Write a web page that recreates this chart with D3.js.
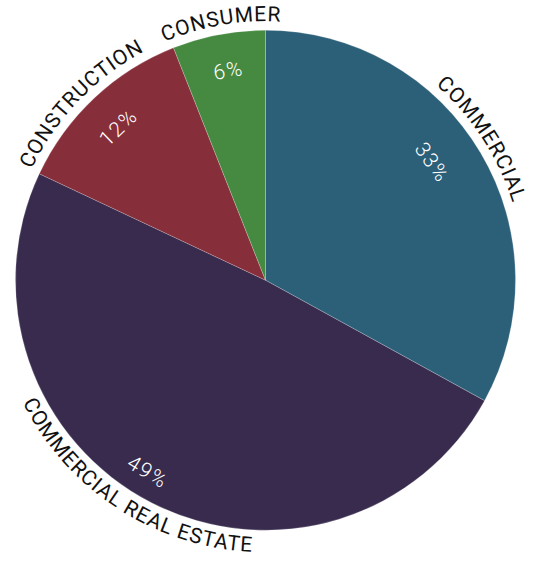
<!DOCTYPE html>
<html>
<head>
<meta charset="utf-8">
<script src="https://cdn.jsdelivr.net/npm/d3@7/dist/d3.min.js"></script>
<style>
  html, body { margin: 0; padding: 0; background: #ffffff; }
  svg { display: block; }
</style>
</head>
<body>
<svg id="chart" width="533" height="564"></svg>
<script>
// Loan portfolio mix by segment
const categories = ["COMMERCIAL", "COMMERCIAL REAL ESTATE", "CONSTRUCTION", "CONSUMER"];
const shares = [33, 49, 12, 6];
const shareLabels = ["33%", "49%", "12%", "6%"];
const sliceColors = ["#2c6079", "#382b4e", "#872e3b", "#468a41"];

// Layout
const width = 533, height = 564;
const cx = 265.5, cy = 280.2, radius = 250;
const nameRadius = 259;          // baseline of names on the upper side
const nameRadiusFlipped = 272;   // baseline of names that read along the lower side
const nameNudge = [-2.5, 6, -3, 1];          // degrees, along the circle
const pctRadius = [204, 225, 212, 213];
const pctNudge = [-4.7, 4.6, -0.7, 0.8];

const svg = d3.select("#chart");
const g = svg.append("g").attr("transform", `translate(${cx},${cy})`);

const pie = d3.pie().sort(null).value(d => d);
const arcs = pie(shares);
const arc = d3.arc().innerRadius(0).outerRadius(radius);

g.selectAll("path.slice")
  .data(arcs)
  .join("path")
  .attr("class", "slice")
  .attr("d", arc)
  .attr("fill", (d, i) => sliceColors[i])
  .attr("stroke", "rgba(255,255,255,0.35)")
  .attr("stroke-width", 0.6);

const deg = Math.PI / 180;
const pt = (a, r) => [r * Math.sin(a), -r * Math.cos(a)];
const midAngle = d => (d.startAngle + d.endAngle) / 2;
const isLower = a => {
  const n = ((a % (2 * Math.PI)) + 2 * Math.PI) % (2 * Math.PI);
  return n > Math.PI / 2 && n < 3 * Math.PI / 2;
};

// Curved category names
const defs = svg.append("defs");
arcs.forEach((d, i) => {
  const m = midAngle(d) + nameNudge[i] * deg;
  const lower = isLower(m);
  const r = lower ? nameRadiusFlipped : nameRadius;
  const span = 80 * deg;
  let p0, p1, sweep;
  if (lower) {
    p0 = pt(m + span, r); p1 = pt(m - span, r); sweep = 0;
  } else {
    p0 = pt(m - span, r); p1 = pt(m + span, r); sweep = 1;
  }
  defs.append("path")
    .attr("id", "name-path-" + i)
    .attr("d", `M${p0[0]},${p0[1]} A${r},${r} 0 0 ${sweep} ${p1[0]},${p1[1]}`);
  g.append("text")
    .attr("font-family", "Roboto, sans-serif")
    .attr("font-size", 21)
    .attr("letter-spacing", 0.9)
    .attr("fill", "#111111")
    .append("textPath")
    .attr("href", "#name-path-" + i)
    .attr("startOffset", "50%")
    .attr("text-anchor", "middle")
    .text(categories[i]);
});

// Share labels inside each slice
arcs.forEach((d, i) => {
  const m = midAngle(d) + pctNudge[i] * deg;
  const [x, y] = pt(m, pctRadius[i]);
  const rot = (isLower(m) ? m / deg - 180 : m / deg);
  g.append("text")
    .attr("transform", `translate(${x},${y}) rotate(${rot})`)
    .attr("text-anchor", "middle")
    .attr("dominant-baseline", "central")
    .attr("font-family", "Roboto, sans-serif")
    .attr("font-weight", 300)
    .attr("font-size", 21)
    .attr("letter-spacing", 1.5)
    .attr("fill", "#ffffff")
    .text(shareLabels[i]);
});
</script>
</body>
</html>
